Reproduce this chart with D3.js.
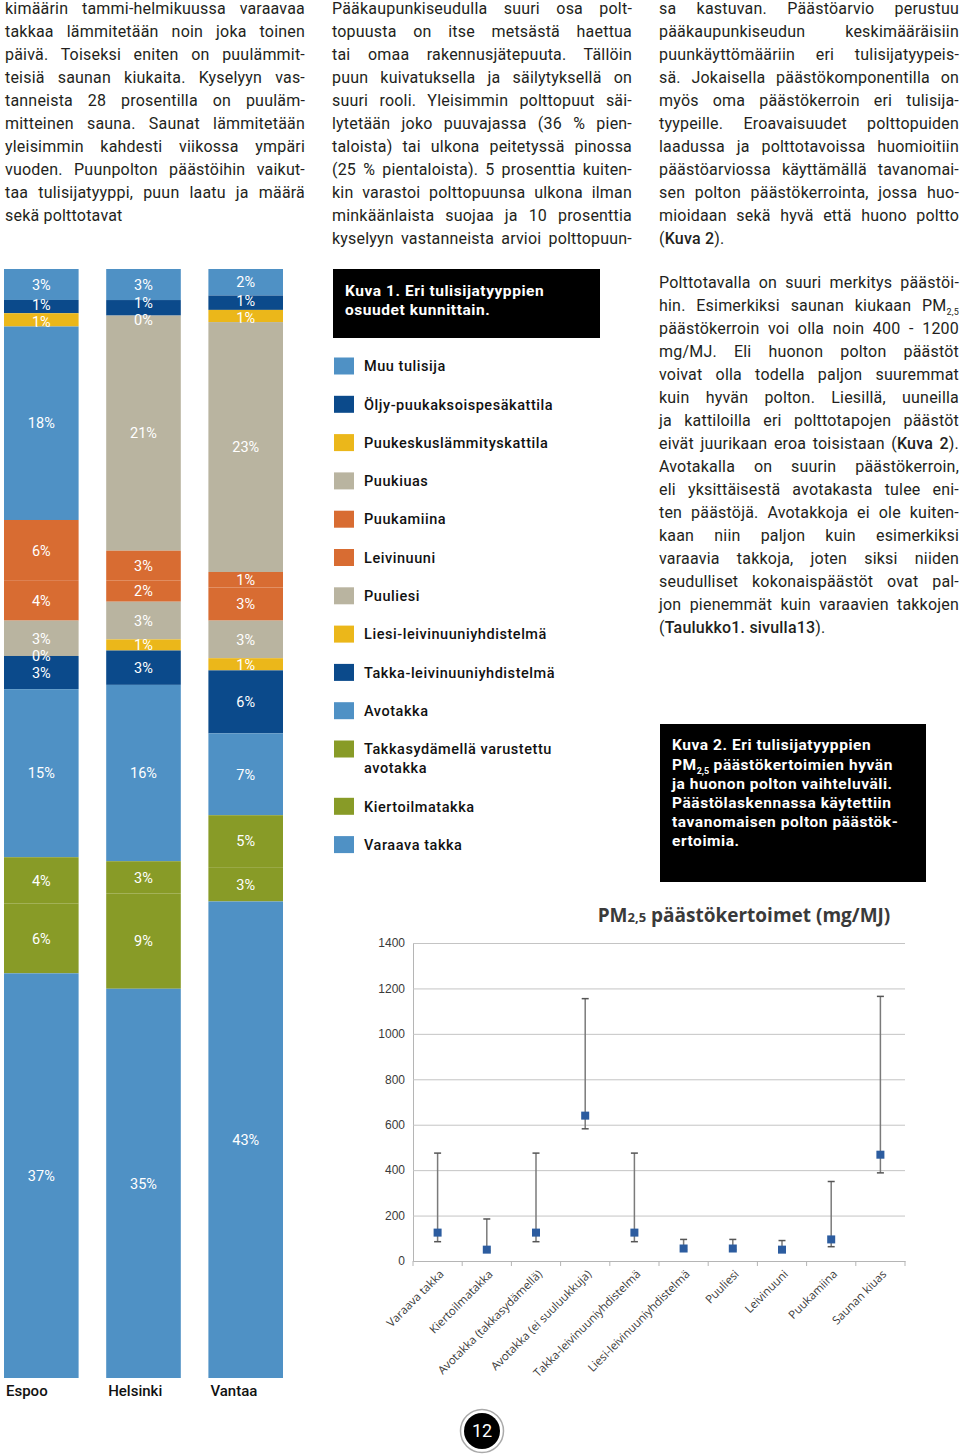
<!DOCTYPE html>
<html><head><meta charset="utf-8">
<script src="https://cdn.jsdelivr.net/npm/d3@7"></script>
<style>
body{margin:0;background:#fff;}
#page{position:relative;width:960px;height:1456px;overflow:hidden;font-family:Roboto,"Noto Sans",sans-serif;color:#231f20;background:#fff;}
svg{position:absolute;left:0;top:0;}
.ln{position:absolute;width:300px;height:23px;line-height:23px;font-size:16px;letter-spacing:0.2px;white-space:nowrap;text-align:justify;text-align-last:justify;}
.ln.last{text-align-last:left;}
.ln b{font-weight:500;}
.ln sub{font-size:9px;vertical-align:-4px;line-height:0;}
.cap{position:absolute;background:#000;color:#fff;font-weight:700;font-size:15.5px;box-sizing:border-box;letter-spacing:0.55px;}
.cap div{white-space:nowrap;}
.cap sub{font-size:9px;vertical-align:-4px;line-height:0;letter-spacing:0;}
</style></head>
<body><div id="page"><svg id="chart" width="960" height="1456"></svg></div>
<script>
// ---------------- data ----------------
const cities = ["Espoo", "Helsinki", "Vantaa"];
const fireplaceTypes = ["Muu tulisija", "Öljy-puukaksoispesäkattila", "Puukeskuslämmityskattila", "Puukiuas", "Puukamiina", "Leivinuuni", "Puuliesi", "Liesi-leivinuuniyhdistelmä", "Takka-leivinuuniyhdistelmä", "Avotakka", "Takkasydämellä varustettu avotakka", "Kiertoilmatakka", "Varaava takka"];
const espooShares    = [2.8, 1.2, 1.2, 17.5, 5.5, 3.6, 3.2, 0.0, 3.0, 15.2, 4.2, 6.3, 36.6];
const helsinkiShares = [2.8, 1.4, 0.0, 21.2, 2.7, 1.9, 3.4, 1.0, 3.1, 15.9, 2.9, 8.6, 35.1];
const vantaaShares   = [2.4, 1.3, 1.1, 22.6, 1.4, 3.0, 3.4, 1.1, 5.7, 7.4, 4.7, 3.1, 43.1];

const pmCategories = ["Varaava takka", "Kiertoilmatakka", "Avotakka (takkasydämellä)", "Avotakka (ei suuluukkuja)", "Takka-leivinuuniyhdistelmä", "Liesi-leivinuuniyhdistelmä", "Puuliesi", "Leivinuuni", "Puukamiina", "Saunan kiuas"];
const pmMean = [125, 50, 125, 640, 125, 55, 55, 50, 95, 468];
const pmLow  = [85, 45, 85, 582, 85, 50, 50, 45, 63, 388];
const pmHigh = [475, 185, 475, 1155, 475, 95, 95, 90, 350, 1165];
const pmTicks = [0, 200, 400, 600, 800, 1000, 1200, 1400];

const col1Lines = ["kimäärin tammi-helmikuussa varaavaa","takkaa lämmitetään noin joka toinen","päivä. Toiseksi eniten on puulämmit-","teisiä saunan kiukaita. Kyselyyn vas-","tanneista 28 prosentilla on puuläm-","mitteinen sauna. Saunat lämmitetään","yleisimmin kahdesti viikossa ympäri","vuoden. Puunpolton päästöihin vaikut-","taa tulisijatyyppi, puun laatu ja määrä","sekä polttotavat"];
const col2Lines = ["Pääkaupunkiseudulla suuri osa polt-","topuusta on itse metsästä haettua","tai omaa rakennusjätepuuta. Tällöin","puun kuivatuksella ja säilytyksellä on","suuri rooli. Yleisimmin polttopuut säi-","lytetään joko puuvajassa (36 % pien-","taloista) tai ulkona peitetyssä pinossa","(25 % pientaloista). 5 prosenttia kuiten-","kin varastoi polttopuunsa ulkona ilman","minkäänlaista suojaa ja 10 prosenttia","kyselyyn vastanneista arvioi polttopuun-"];
const col3Lines = ["sa kastuvan. Päästöarvio perustuu","pääkaupunkiseudun keskimääräisiin","puunkäyttömääriin eri tulisijatyypeis-","sä. Jokaisella päästökomponentilla on","myös oma päästökerroin eri tulisija-","tyypeille. Eroavaisuudet polttopuiden","laadussa ja polttotavoissa huomioitiin","päästöarviossa käyttämällä tavanomai-","sen polton päästökerrointa, jossa huo-","mioidaan sekä hyvä että huono poltto","(<b>Kuva 2</b>)."];
const rightLines = ["Polttotavalla on suuri merkitys päästöi-","hin. Esimerkiksi saunan kiukaan PM<sub>2,5</sub>","päästökerroin voi olla noin 400 - 1200","mg/MJ. Eli huonon polton päästöt","voivat olla todella paljon suuremmat","kuin hyvän polton. Liesillä, uuneilla","ja kattiloilla eri polttotapojen päästöt","eivät juurikaan eroa toisistaan (<b>Kuva 2</b>).","Avotakalla on suurin päästökerroin,","eli yksittäisestä avotakasta tulee eni-","ten päästöjä. Avotakkoja ei ole kuiten-","kaan niin paljon kuin esimerkiksi","varaavia takkoja, joten siksi niiden","seudulliset kokonaispäästöt ovat pal-","jon pienemmät kuin varaavien takkojen","(<b>Taulukko1. sivulla13</b>)."];
const caption1Lines = ["Kuva 1. Eri tulisijatyyppien","osuudet kunnittain."];
const caption2Lines = ["Kuva 2. Eri tulisijatyyppien","PM<sub>2,5</sub> päästökertoimien hyvän","ja huonon polton vaihteluväli.","Päästölaskennassa käytettiin","tavanomaisen polton päästök-","ertoimia."];
const pageNumber = "12";

// ---------------- styles ----------------
const LB = "#4f91c5", DB = "#0b4a8b", YE = "#ebb71a", GY = "#b9b4a0", OR = "#d86c32", GR = "#889b27";
const typeColors = [LB, DB, YE, GY, OR, OR, GY, YE, DB, LB, GR, GR, LB];

const page = d3.select("#page");
const svg = d3.select("#chart");

// ---------------- text columns ----------------
function addLines(lines, x, centerY0, lastJustified) {
  lines.forEach((t, i) => {
    const isLast = i === lines.length - 1 && !lastJustified;
    page.append("div").attr("class", "ln" + (isLast ? " last" : ""))
      .style("left", x + "px").style("top", (centerY0 - 12 + i * 23) + "px")
      .html(t);
  });
}
addLines(col1Lines, 5, 9, false);
addLines(col2Lines, 332, 9, true);
addLines(col3Lines, 659, 9, false);
addLines(rightLines, 659, 283, false);

function addCaption(lines, x, y, w, h, firstCenter, lh) {
  const box = page.append("div").attr("class", "cap")
    .style("left", x + "px").style("top", y + "px").style("width", w + "px").style("height", h + "px");
  lines.forEach((t, i) => {
    box.append("div").style("position", "absolute").style("left", "12px")
      .style("top", (firstCenter - y - lh / 2 + i * lh) + "px")
      .style("line-height", lh + "px").html(t);
  });
}
addCaption(caption1Lines, 333, 269, 267, 69, 291, 19);
addCaption(caption2Lines, 660, 724, 266, 158, 746, 19.2);

// ---------------- stacked bars (Kuva 1) ----------------
const xBar = d3.scaleBand().domain(cities).range([4, 283]).paddingInner(0.27);
const yBar = d3.scaleLinear().domain([0, 1]).range([269, 1378]);
const shares = [espooShares, helsinkiShares, vantaaShares];
const rows = cities.map((c, i) => ({ city: c, values: shares[i] }));
const layers = d3.stack().keys(d3.range(fireplaceTypes.length))
  .value((d, k) => d.values[k]).offset(d3.stackOffsetExpand)(rows);

const gBars = svg.append("g");
layers.forEach((layer, k) => {
  gBars.append("g").selectAll("rect").data(layer).join("rect")
    .attr("x", d => xBar(d.data.city))
    .attr("width", xBar.bandwidth())
    .attr("y", d => yBar(d[0]))
    .attr("height", d => yBar(d[1]) - yBar(d[0]))
    .attr("fill", d => (d.data.city === "Espoo" && k === 3) ? LB : typeColors[k]);
});

// labels: centred in segments, then spread apart so that neighbours keep a minimum gap
const MIN_GAP = 17;
cities.forEach((city, ci) => {
  const labs = layers.map((layer, k) => {
    const seg = layer[ci];
    return { k, v: rows[ci].values[k], y: (yBar(seg[0]) + yBar(seg[1])) / 2 };
  });
  for (let it = 0; it < 40; it++) {
    for (let i = 1; i < labs.length; i++) {
      const gap = labs[i].y - labs[i - 1].y;
      if (gap < MIN_GAP) {
        const push = (MIN_GAP - gap) / 2;
        labs[i - 1].y -= push; labs[i].y += push;
      }
    }
  }
  gBars.append("g").selectAll("text").data(labs).join("text")
    .attr("x", xBar(city) + xBar.bandwidth() / 2)
    .attr("y", d => d.y)
    .attr("dy", "0.36em").attr("text-anchor", "middle")
    .attr("fill", "#fff").style("font-size", "14.5px")
    .style("font-family", "Roboto, sans-serif")
    .text(d => Math.round(d.v) + "%");
});

svg.append("g").selectAll("text").data(cities).join("text")
  .attr("x", d => xBar(d) + 2).attr("y", 1391).attr("dy", "0.36em")
  .style("font-size", "15px").style("font-weight", 500).attr("fill", "#111")
  .style("font-family", "Roboto, sans-serif").text(d => d);

// ---------------- legend ----------------
const gLeg = svg.append("g").style("font-family", "Roboto, sans-serif");
let extra = 0;
fireplaceTypes.forEach((name, i) => {
  const cy = 366 + i * 38.3 + extra;
  gLeg.append("rect").attr("x", 334).attr("y", cy - 8.5).attr("width", 20).attr("height", 17).attr("fill", typeColors[i]);
  const t = gLeg.append("text").attr("x", 364).attr("y", cy).attr("dy", "0.36em")
    .style("font-size", "14.5px").style("font-weight", 500).style("letter-spacing", "0.55px").attr("fill", "#111");
  const words = name.split(" ");
  let line = [], lineNo = 0;
  let tspan = t.append("tspan").attr("x", 364);
  words.forEach(w => {
    line.push(w);
    tspan.text(line.join(" "));
    if (tspan.node().getComputedTextLength() > 205 && line.length > 1) {
      line.pop(); tspan.text(line.join(" "));
      line = [w]; lineNo++;
      tspan = t.append("tspan").attr("x", 364).attr("dy", "19px").text(w);
    }
  });
  extra += lineNo * 19;
});

// ---------------- PM2,5 chart (Kuva 2) ----------------
const xPm = d3.scaleBand().domain(pmCategories).range([413, 905]);
const yPm = d3.scaleLinear().domain([0, 1400]).range([1261, 943]);
const gPm = svg.append("g").style("font-family", "'Open Sans', sans-serif");

const yAxis = gPm.append("g").attr("transform", "translate(413,0)")
  .call(d3.axisLeft(yPm).tickValues(pmTicks).tickSize(-492).tickPadding(8).tickFormat(d3.format("d")));
yAxis.select(".domain").attr("stroke", "#b5b5b5");
yAxis.selectAll(".tick line").attr("stroke", "#c4c4c4");
yAxis.selectAll(".tick text").attr("fill", "#3a3a3a").style("font-size", "12px");

const xAxis = gPm.append("g").attr("transform", "translate(0,1261)")
  .call(d3.axisBottom(xPm).tickSize(0).tickFormat(""));
xAxis.select(".domain").attr("stroke", "#b5b5b5");
gPm.append("g").selectAll("line").data(pmCategories.concat(["end"])).join("line")
  .attr("x1", d => d === "end" ? xPm.range()[1] : xPm(d))
  .attr("x2", d => d === "end" ? xPm.range()[1] : xPm(d))
  .attr("y1", 1261).attr("y2", 1266).attr("stroke", "#b5b5b5");
gPm.append("g").selectAll("text").data(pmCategories).join("text")
  .attr("transform", d => `translate(${xPm(d) + xPm.bandwidth() / 2 + 4},1272) rotate(-45)`)
  .attr("text-anchor", "end").attr("dy", "0.35em")
  .style("font-size", "11.5px").attr("fill", "#3a3a3a").text(d => d);

const cx = i => xPm(pmCategories[i]) + xPm.bandwidth() / 2;
const gErr = gPm.append("g");
pmCategories.forEach((c, i) => {
  gErr.append("line").attr("x1", cx(i)).attr("x2", cx(i)).attr("y1", yPm(pmLow[i])).attr("y2", yPm(pmHigh[i]))
    .attr("stroke", "#7a7a7a").attr("stroke-width", 1.5);
  [pmLow[i], pmHigh[i]].forEach(v => gErr.append("line").attr("x1", cx(i) - 3.5).attr("x2", cx(i) + 3.5)
    .attr("y1", yPm(v)).attr("y2", yPm(v)).attr("stroke", "#555").attr("stroke-width", 1.5));
});
gPm.append("g").selectAll("rect").data(pmMean).join("rect")
  .attr("x", (d, i) => cx(i) - 4).attr("y", d => yPm(d) - 4).attr("width", 8).attr("height", 8)
  .attr("fill", "#2c5c9f");

const title = gPm.append("text").attr("x", 744).attr("y", 915).attr("dy", "0.35em")
  .attr("text-anchor", "middle").attr("fill", "#3a3a3a")
  .style("font-size", "19px").style("font-weight", 700);
title.append("tspan").text("PM");
title.append("tspan").style("font-size", "13px").text("2,5");
title.append("tspan").text(" päästökertoimet (mg/MJ)");

// ---------------- page number ----------------
svg.append("circle").attr("cx", 482).attr("cy", 1431).attr("r", 21.5).attr("fill", "#fff").attr("stroke", "#aaa").attr("stroke-width", 1.5);
svg.append("circle").attr("cx", 482).attr("cy", 1431).attr("r", 18).attr("fill", "#000");
svg.append("text").attr("x", 482).attr("y", 1431).attr("dy", "0.36em").attr("text-anchor", "middle")
  .attr("fill", "#fff").style("font-size", "18px").style("font-family", "Roboto, sans-serif").text(pageNumber);
</script></body></html>
